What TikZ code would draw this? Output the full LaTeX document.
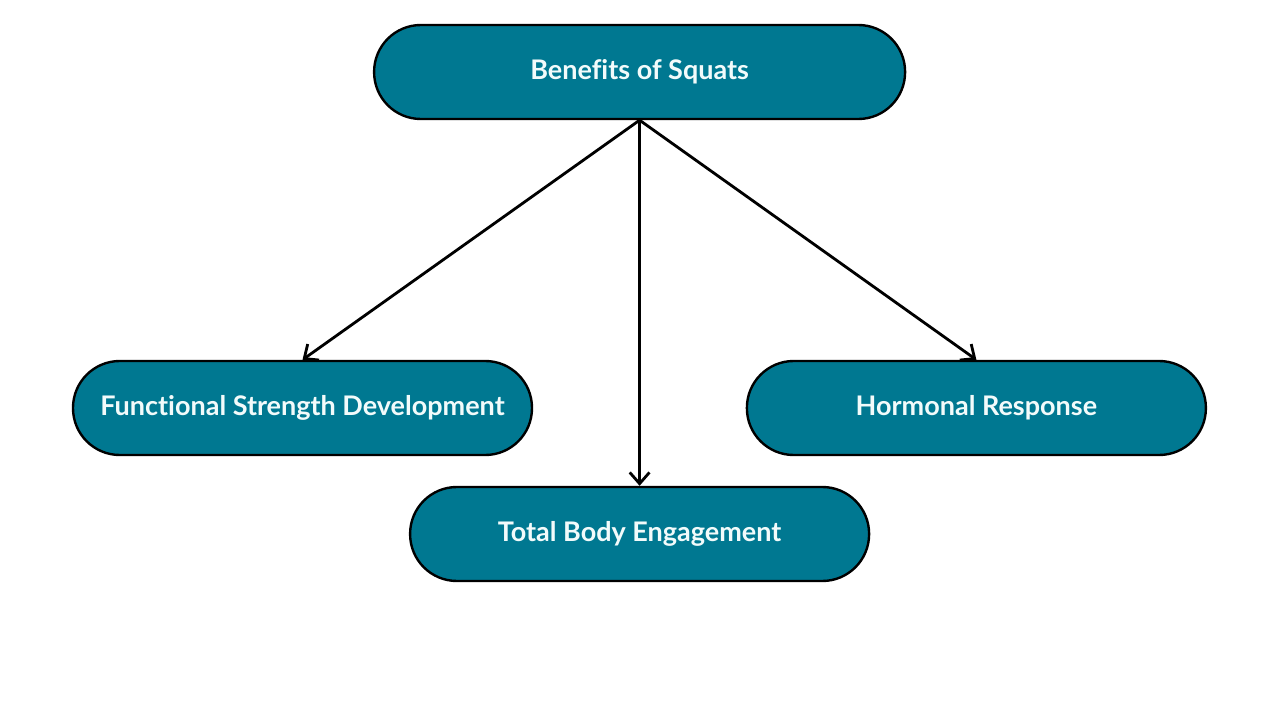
\documentclass[tikz,border=0pt]{standalone}
\usepackage{fontspec}
\setmainfont{Lato}[Ligatures=NoCommon]
\usepackage{tikz}
\usetikzlibrary{arrows.meta, positioning}
\definecolor{teal}{HTML}{007891}
\definecolor{paletext}{HTML}{F2FBFB}

\begin{document}
\begin{tikzpicture}[
    benefit/.style={draw=black, line width=1.7pt, fill=teal, rounded corners=1.17cm,
      minimum height=2.35cm, minimum width=11.475cm, text=paletext,
      font=\fontsize{19.2}{23}\selectfont\bfseries},
    link/.style={-{Straight Barb[length=8pt, width=14pt]}, line width=2pt}
  ]
  \useasboundingbox (0,0) rectangle (32,18);
  \node[benefit, minimum width=13.275cm] (squats) at (15.99,16.2) {Benefits of Squats};
  \node[benefit] (strength) at (7.5625,7.8) {Functional Strength Development};
  \node[benefit] (hormone) at (24.41,7.8) {Hormonal Response};
  \node[benefit] (body) at (15.99,4.65) {Total Body Engagement};

  \draw[link] (squats.south) -- (strength.north);
  \draw[link] (squats.south) -- (body.north);
  \draw[link] (squats.south) -- (hormone.north);
\end{tikzpicture}
\end{document}
